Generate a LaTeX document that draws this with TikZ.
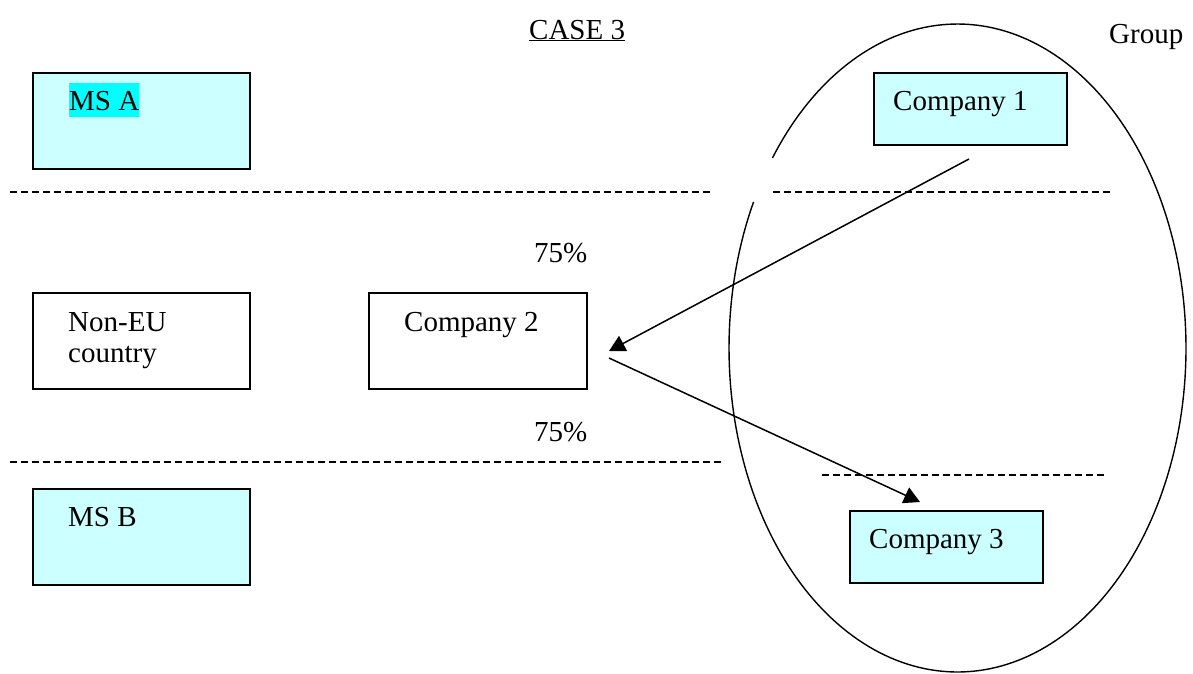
\documentclass[tikz,border=0pt]{standalone}
\usepackage{fontspec}
\setmainfont{Liberation Serif}
\usetikzlibrary{arrows.meta}
\definecolor{boxcyan}{HTML}{CCFFFF}
\definecolor{hilite}{HTML}{00FFFF}
\begin{document}
\begin{tikzpicture}[x=1pt,y=-1pt,
  box/.style={draw=black, line width=1.8pt, minimum width=217pt, minimum height=96pt, inner sep=0pt, anchor=north west},
  cbox/.style={draw=black, line width=1.8pt, minimum width=193pt, minimum height=72pt, inner sep=0pt, anchor=north west, fill=boxcyan},
  txt/.style={anchor=base west, inner sep=0pt, font=\fontsize{29}{33}\selectfont},
  sep/.style={line width=1.6pt, dash pattern=on 7pt off 4pt},
  conn/.style={line width=1.5pt, -{Triangle[length=16pt,width=17pt]}},
  grp/.style={line width=1.4pt},
]
\useasboundingbox (0,0) rectangle (1193,673);
\fill[white] (0,0) rectangle (1193,673);

% group ellipse (with its small gap on the upper left)
\draw[grp] plot[domain=153.2:504.1, samples=240] ({957.5+228.5*cos(\x)},{348-324*sin(\x)});

% separators
\draw[sep] (10,192) -- (711,192);
\draw[sep] (773,192) -- (1112,192);
\draw[sep] (10,462) -- (721,462);
\draw[sep] (822,475) -- (1107,475);

% boxes
\node[box, fill=boxcyan] (msa) at (32,72) {};
\node[box] (noneu) at (32,292) {};
\node[box, minimum width=218pt] (co2) at (368,292) {};
\node[box, fill=boxcyan] (msb) at (32,488) {};
\node[cbox] (co1) at (873,72) {};
\node[cbox] (co3) at (849,510) {};

% texts
\node[txt] (title) at (529,39) {\underline{CASE 3}};
\node[txt] (group) at (1109,43) {Group};
\node[txt, fill=hilite, text height=27pt, text depth=7pt] (msat) at (69,110) {MS A};
\node[txt] (noneut1) at (68,331) {Non-EU};
\node[txt] (noneut2) at (68,362) {country};
\node[txt] (co2t) at (404,331) {Company 2};
\node[txt] (msbt) at (68,526) {MS B};
\node[txt] (co1t) at (893,110) {Company 1};
\node[txt] (co3t) at (869,548) {Company 3};
\node[txt] (pct1) at (534,262) {75\%};
\node[txt] (pct2) at (534,441) {75\%};

% connectors
\coordinate (a1s) at (969,159);
\coordinate (a1e) at (609,351);
\coordinate (a2s) at (609,358);
\coordinate (a2e) at (920,502);
\draw[conn] (a1s) -- (a1e);
\draw[conn] (a2s) -- (a2e);
\end{tikzpicture}
\end{document}
